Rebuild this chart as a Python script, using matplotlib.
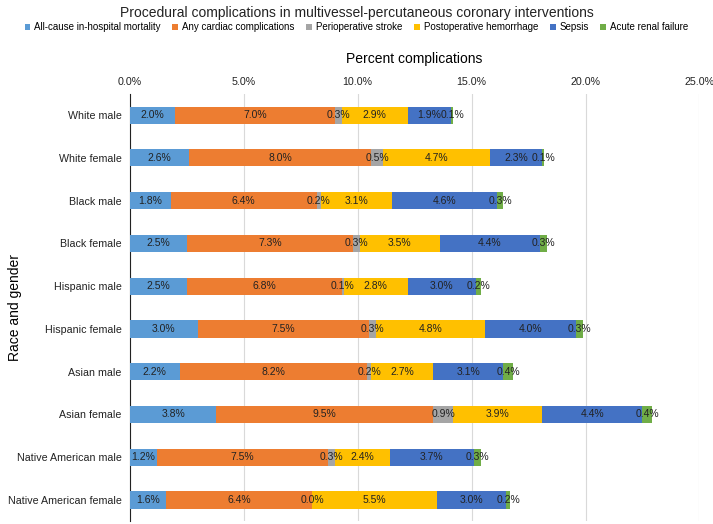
import numpy as np
import matplotlib.pyplot as plt

plt.rcParams['font.family'] = ['Liberation Sans', 'DejaVu Sans']

groups = ["White male", "White female", "Black male", "Black female", "Hispanic male",
          "Hispanic female", "Asian male", "Asian female", "Native American male",
          "Native American female"]
series = ["All-cause in-hospital mortality", "Any cardiac complications",
          "Perioperative stroke", "Postoperative hemorrhage", "Sepsis", "Acute renal failure"]
mortality = [2.0, 2.6, 1.8, 2.5, 2.5, 3.0, 2.2, 3.8, 1.2, 1.6]
cardiac = [7.0, 8.0, 6.4, 7.3, 6.8, 7.5, 8.2, 9.5, 7.5, 6.4]
stroke = [0.3, 0.5, 0.2, 0.3, 0.1, 0.3, 0.2, 0.9, 0.3, 0.0]
hemorrhage = [2.9, 4.7, 3.1, 3.5, 2.8, 4.8, 2.7, 3.9, 2.4, 5.5]
sepsis = [1.9, 2.3, 4.6, 4.4, 3.0, 4.0, 3.1, 4.4, 3.7, 3.0]
renal = [0.1, 0.1, 0.3, 0.3, 0.2, 0.3, 0.4, 0.4, 0.3, 0.2]
colors = ["#5B9BD5", "#ED7D31", "#A5A5A5", "#FFC000", "#4472C4", "#70AD47"]

data = [mortality, cardiac, stroke, hemorrhage, sepsis, renal]

fig = plt.figure(figsize=(7.13, 5.24), dpi=100)
ax = fig.add_axes([0.182, 0.005, 0.799, 0.816])

y = np.arange(len(groups))
left = np.zeros(len(groups))
for vals, name, c in zip(data, series, colors):
    vals = np.array(vals)
    ax.barh(y, vals, left=left, height=0.4, color=c, label=name, zorder=3)
    for yi, l, v in zip(y, left, vals):
        ax.text(l + v / 2, yi, f"{v:.1f}%", ha="center", va="center",
                fontsize=7.5, color="#222222", zorder=4)
    left += vals

ax.set_ylim(len(groups) - 0.5, -0.5)
ax.set_xlim(0, 25)
ax.set_xticks(np.arange(0, 26, 5))
ax.set_xticklabels([f"{t:.1f}%" for t in np.arange(0, 26, 5)])
ax.xaxis.tick_top()
ax.xaxis.set_label_position("top")
ax.set_xlabel("Percent complications", fontsize=10, labelpad=10)
ax.set_ylabel("Race and gender", fontsize=10)
ax.yaxis.set_label_coords(-0.19, 0.5)
ax.set_yticks(y)
ax.set_yticklabels(groups)
ax.tick_params(axis="both", length=0, labelsize=7.7, colors="#222222")
ax.tick_params(axis="x", pad=5)
ax.tick_params(axis="y", pad=6)
ax.grid(axis="x", color="#D9D9D9", linewidth=0.8, zorder=0)
for s in ["top", "right", "bottom"]:
    ax.spines[s].set_visible(False)
ax.spines["left"].set_color("#222222")

fig.text(0.5, 0.975, "Procedural complications in multivessel-percutaneous coronary interventions",
         ha="center", va="center", fontsize=10, color="#222222")
handles, labels = ax.get_legend_handles_labels()
fig.legend(handles, labels, loc="center", bbox_to_anchor=(0.5, 0.948), ncol=6, frameon=False,
           fontsize=7, handlelength=0.6, handleheight=0.6, columnspacing=1.2, handletextpad=0.4)

fig.savefig("out.png")
